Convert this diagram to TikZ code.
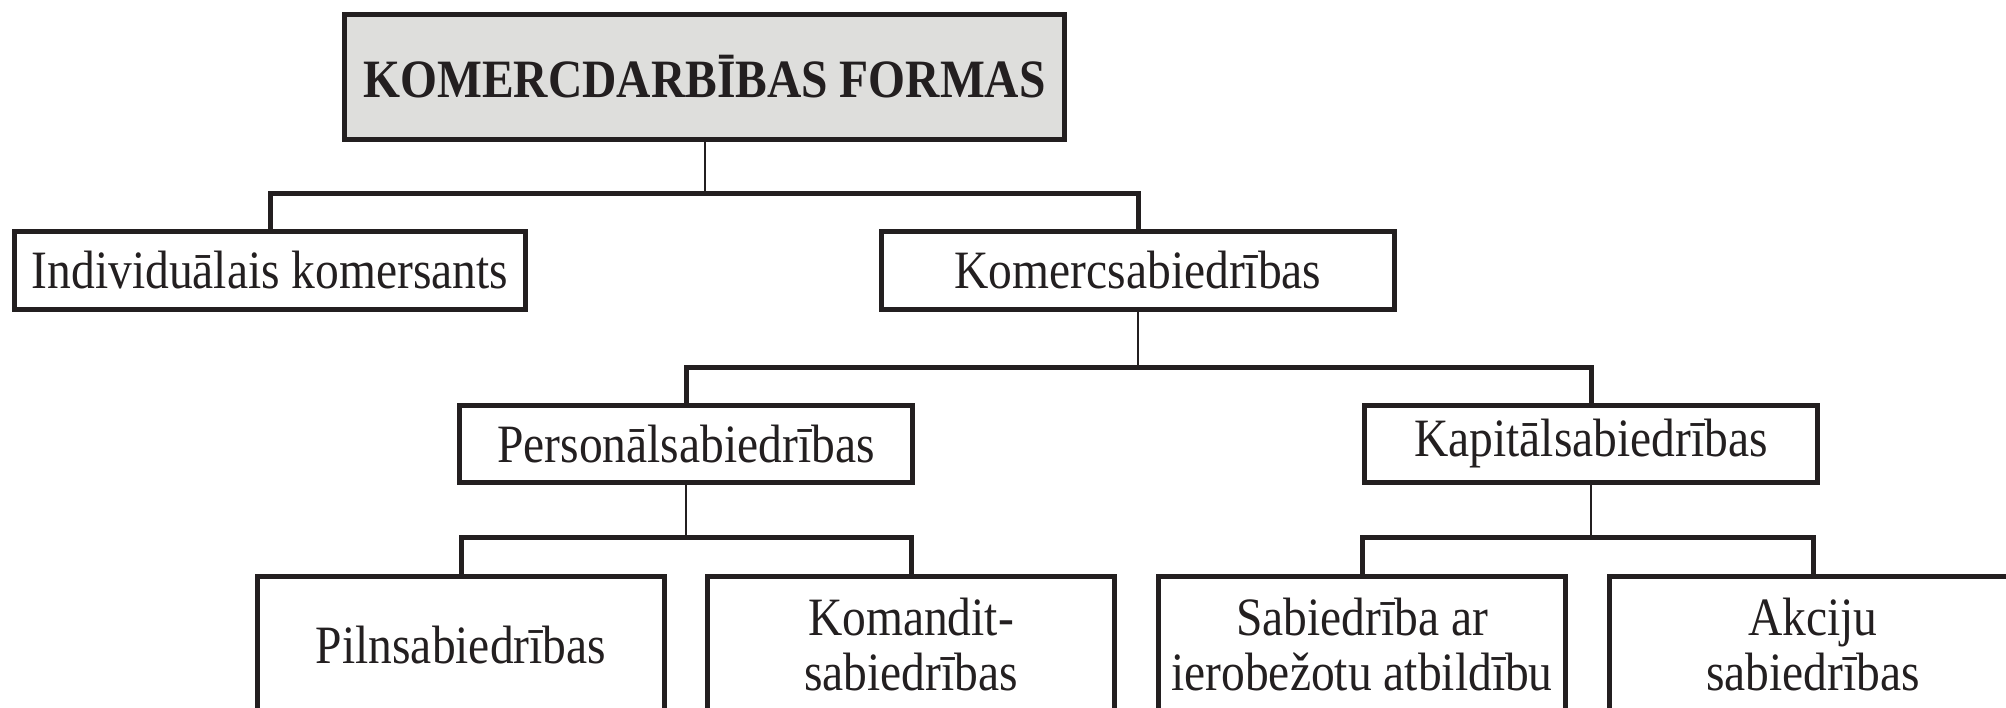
\documentclass[tikz,border=0pt]{standalone}
\usepackage{fontspec}
\setmainfont{Liberation Serif}[FakeStretch=0.88]
\usepackage{xcolor}
\usepackage{tikz}
\definecolor{frmInk}{HTML}{231F20}
\definecolor{frmGray}{HTML}{DEDEDC}
\usetikzlibrary{calc}

\begin{document}
\begin{tikzpicture}[x=0.5pt,y=-0.5pt,
    box/.style={draw=frmInk, line width=2.5pt, fill=white, inner sep=0pt,
      align=center, text=frmInk, font=\fontsize{27}{27.5}\selectfont},
    stem/.style={draw=frmInk, line width=1pt},
    bar/.style={draw=frmInk, line width=2.5pt}]
    \useasboundingbox (0,0) rectangle (2006,707);
    \clip (0,0) rectangle (2006,707);

    \node[box, fill=frmGray, minimum width=360pt, minimum height=62.5pt,
      font=\fontsize{27}{27.5}\selectfont\bfseries] (forms) at (704.5,77) {KOMERCDARBĪBAS FORMAS};

    \node[box, minimum width=255.5pt, minimum height=39pt] (indiv) at (270,270.5) {Individuālais komersants};
    \node[box, minimum width=256.5pt, minimum height=39pt] (komerc) at (1138,270.5) {Komercsabiedrības};

    \node[box, minimum width=226.5pt, minimum height=38.5pt] (pers) at (686,444) {Personālsabiedrības};
    \node[box, minimum width=226.5pt, minimum height=38.5pt] (kapit) at (1591,444) {Kapitālsabiedrības};

    \node[box, minimum width=203.5pt, minimum height=68.5pt] (piln) at (461,645) {Pilnsabiedrības};
    \node[box, minimum width=203.5pt, minimum height=68.5pt] (koman) at (911,645) {Komandit-\\sabiedrības};
    \node[box, minimum width=203.5pt, minimum height=68.5pt] (sia) at (1362,645) {Sabiedrība ar\\ierobežotu atbildību};
    \node[box, minimum width=203.5pt, minimum height=68.5pt] (akc) at (1813,645) {Akciju\\sabiedrības};

    \draw[stem] (forms.south) -- ++(0,51.5) coordinate (jForms);
    \draw[bar] (indiv.north) |- (jForms) -| (komerc.north);
    \draw[stem] (komerc.south) -- ++(0,55.5) coordinate (jKomerc);
    \draw[bar] (pers.north) |- (jKomerc) -| (kapit.north);
    \draw[stem] (pers.south) -- ++(0,52.5) coordinate (jPers);
    \draw[bar] (piln.north) |- (jPers) -| (koman.north);
    \draw[stem] (kapit.south) -- ++(0,52.5) coordinate (jKapit);
    \draw[bar] (sia.north) |- (jKapit) -| (akc.north);
  \end{tikzpicture}
\end{document}
